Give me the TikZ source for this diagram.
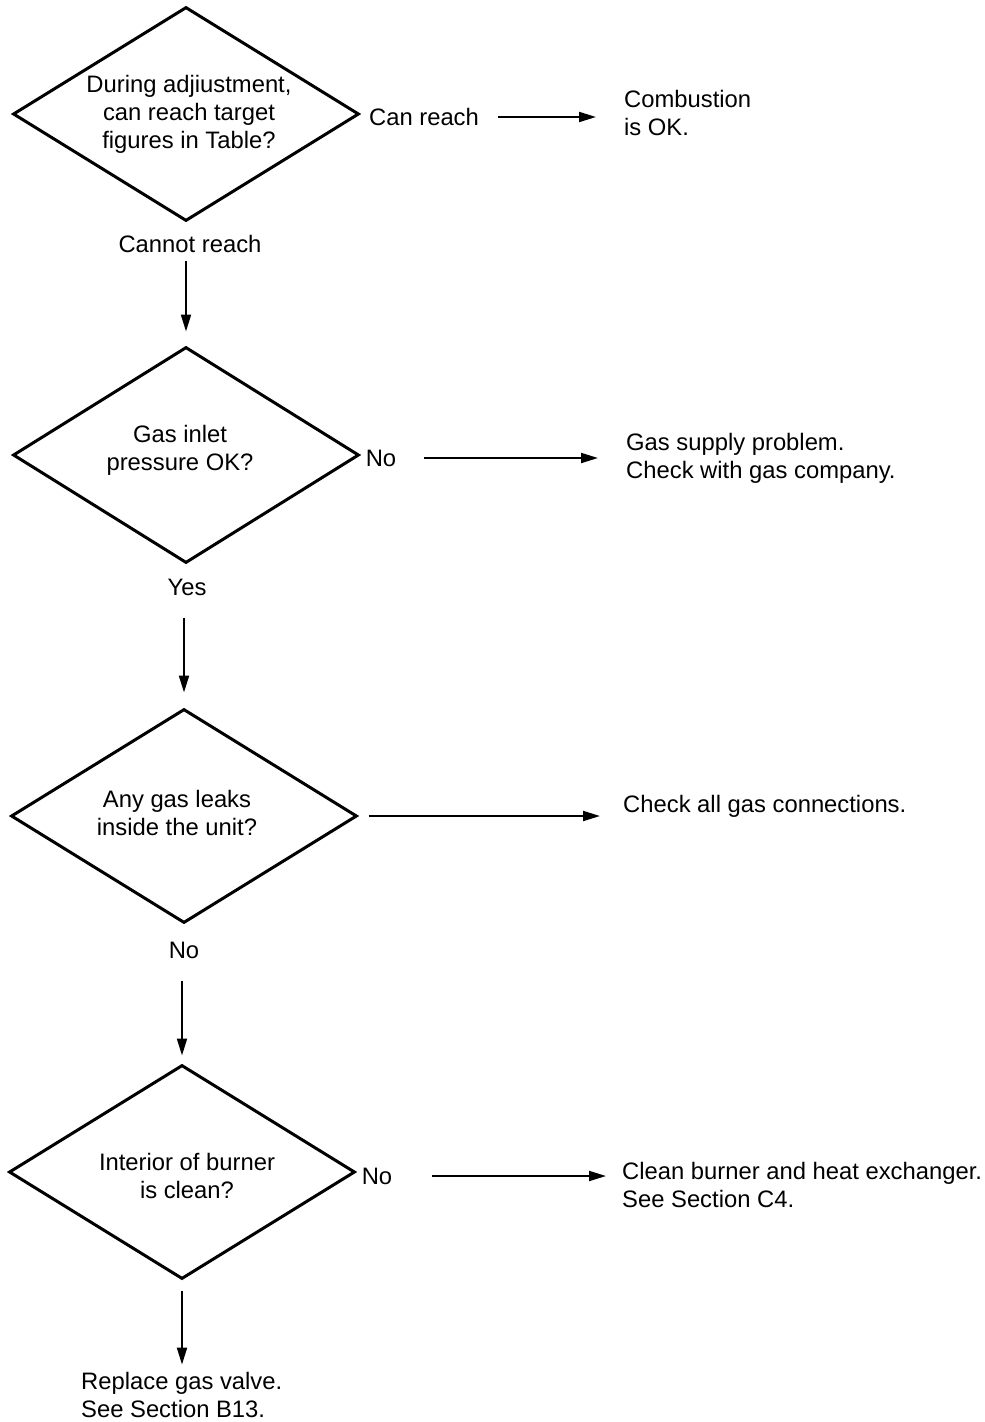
\documentclass[tikz,border=0pt]{standalone}
\usepackage{fontspec}
\setmainfont{Liberation Sans}
\usetikzlibrary{shapes.geometric,arrows.meta}
\begin{document}
\begin{tikzpicture}[x=1pt,y=-1pt,
  decision/.style={draw,line width=3pt,shape=diamond,minimum width=346pt,minimum height=214pt,inner sep=0pt},
  txt/.style={inner sep=0pt,font=\fontsize{23.8}{28}\selectfont,align=center},
  note/.style={txt,align=left,anchor=west},
  arr/.style={line width=2pt,-{Triangle[length=17pt,width=10pt]}}]
\useasboundingbox (0,0) rectangle (985,1422);

% decision 1
\node[decision] (d1) at (186,114) {};
\node[txt] (q1) at (189,114.5) {During adjiustment,\\can reach target\\figures in Table?};
\node[txt] (l1) at (424,117) {Can reach};
\node[note] (r1) at (624,113) {Combustion\\is OK.};
\draw[arr,shorten <=19pt,shorten >=28pt] (l1.east) -- (l1.east -| r1.west);
\node[txt] (b1) at (190,244) {Cannot reach};

% decision 2
\node[decision,minimum height=216pt] (d2) at (186,455) {};
\node[txt] (q2) at (180,450) {Gas inlet\\pressure OK?};
\node[txt] (l2) at (381,458) {No};
\node[note] (r2) at (626,458) {Gas supply problem.\\Check with gas company.};
\draw[arr,shorten <=28pt,shorten >=28pt] (l2.east) -- (l2.east -| r2.west);
\node[txt] (b2) at (187,587) {Yes};
\draw[arr,shorten <=8pt,shorten >=14pt] (b1.south -| d2.north) -- (d2.north);

% decision 3
\node[decision] (d3) at (184,816) {};
\node[txt] (q3) at (177,812.5) {Any gas leaks\\inside the unit?};
\node[note] (r3) at (623,806) {Check all gas connections.};
\draw[arr,shorten <=10pt,shorten >=23pt] (d3.east) -- (d3.east -| r3.west);
\node[txt] (b3) at (184,950) {No};
\draw[arr,shorten <=22pt,shorten >=15pt] (b2.south -| d3.north) -- (d3.north);

% decision 4
\node[decision] (d4) at (182,1172) {};
\node[txt] (q4) at (187,1175.5) {Interior of burner\\is clean?};
\node[txt] (l4) at (377,1176) {No};
\node[note] (r4) at (622,1185) {Clean burner and heat exchanger.\\See Section C4.};
\draw[arr,shorten <=40pt,shorten >=16pt] (l4.east) -- (l4.east -| r4.west);
\draw[arr,shorten <=22pt,shorten >=8pt] (b3.south -| d4.north) -- (d4.north);

% final step
\node[note] (r5) at (81,1394.5) {Replace gas valve.\\See Section B13.};
\draw[arr,shorten <=10pt,shorten >=7pt] (d4.south) -- (d4.south |- r5.north);
\end{tikzpicture}
\end{document}
